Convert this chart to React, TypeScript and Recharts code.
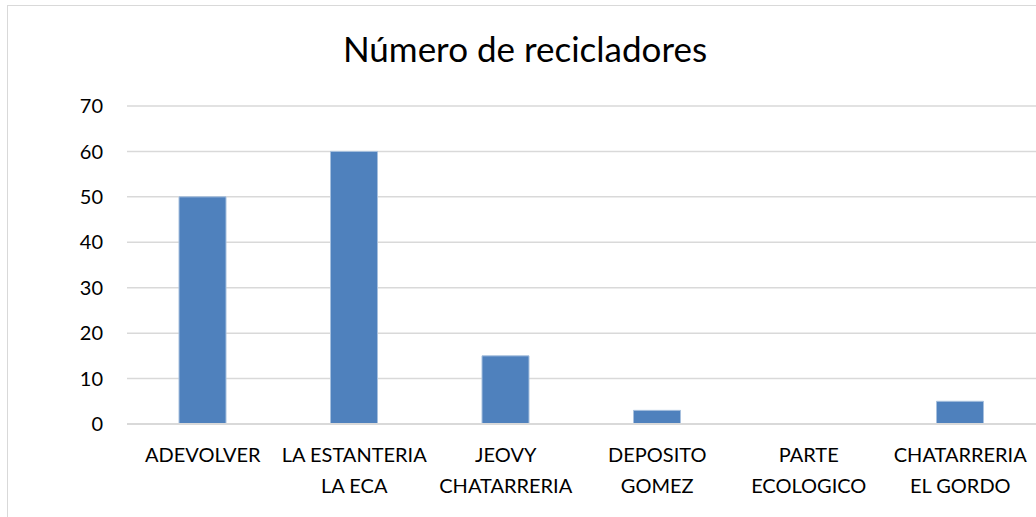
import React from 'react';
import { BarChart, Bar, XAxis, YAxis, CartesianGrid } from 'recharts';

const categories = [
  'ADEVOLVER',
  'LA ESTANTERIA\nLA ECA',
  'JEOVY\nCHATARRERIA',
  'DEPOSITO\nGOMEZ',
  'PARTE\nECOLOGICO',
  'CHATARRERIA\nEL GORDO',
];
const recicladores = [50, 60, 15, 3, 0, 5];
const yTicks = [0, 10, 20, 30, 40, 50, 60, 70];

const chartData = categories.map((name, i) => ({ name, value: recicladores[i] }));

const FONT = 'Lato, "Open Sans", sans-serif';

function CategoryTick(props: any) {
  const { x, y, payload } = props;
  const lines = String(payload.value).split('\n');
  return (
    <text x={x} y={y} textAnchor="middle" fill="#000" fontSize={20} fontFamily={FONT}>
      {lines.map((line, i) => (
        <tspan key={i} x={x} dy={i === 0 ? 38 : 31}>
          {line}
        </tspan>
      ))}
    </text>
  );
}

export default function App() {
  return (
    <div style={{ position: 'absolute', left: 0, top: 0, width: 1036, height: 517, overflow: 'hidden', background: '#fff' }}>
      <div
        style={{
          position: 'absolute',
          left: 7,
          top: 5,
          width: 1036,
          height: 530,
          border: '1px solid #d9d9d9',
          boxSizing: 'border-box',
        }}
      />
      <div
        style={{
          position: 'absolute',
          left: 7,
          top: 27,
          width: 1036,
          textAlign: 'center',
          fontFamily: FONT,
          fontSize: 35,
          color: '#000',
        }}
      >
        Número de recicladores
      </div>
      <div style={{ position: 'absolute', left: 0, top: 0 }}>
        <BarChart width={1036} height={517} data={chartData} margin={{ top: 106, right: 0, left: 0, bottom: 0 }}>
          <CartesianGrid vertical={false} stroke="#d9d9d9" strokeWidth={1.5} />
          <XAxis
            dataKey="name"
            axisLine={{ stroke: '#d9d9d9', strokeWidth: 2 }}
            tickLine={false}
            tickSize={0}
            tickMargin={0}
            interval={0}
            tick={<CategoryTick />}
            height={93}
          />
          <YAxis
            domain={[0, 70]}
            ticks={yTicks}
            width={127}
            axisLine={false}
            tickLine={false}
            tickSize={0}
            tickMargin={24}
            tick={{ fill: '#000', fontSize: 20, fontFamily: FONT }}
          />
          <Bar dataKey="value" fill="#4f81bd" stroke="#a7c0de" strokeWidth={1} barSize={47} isAnimationActive={false} />
        </BarChart>
      </div>
    </div>
  );
}
